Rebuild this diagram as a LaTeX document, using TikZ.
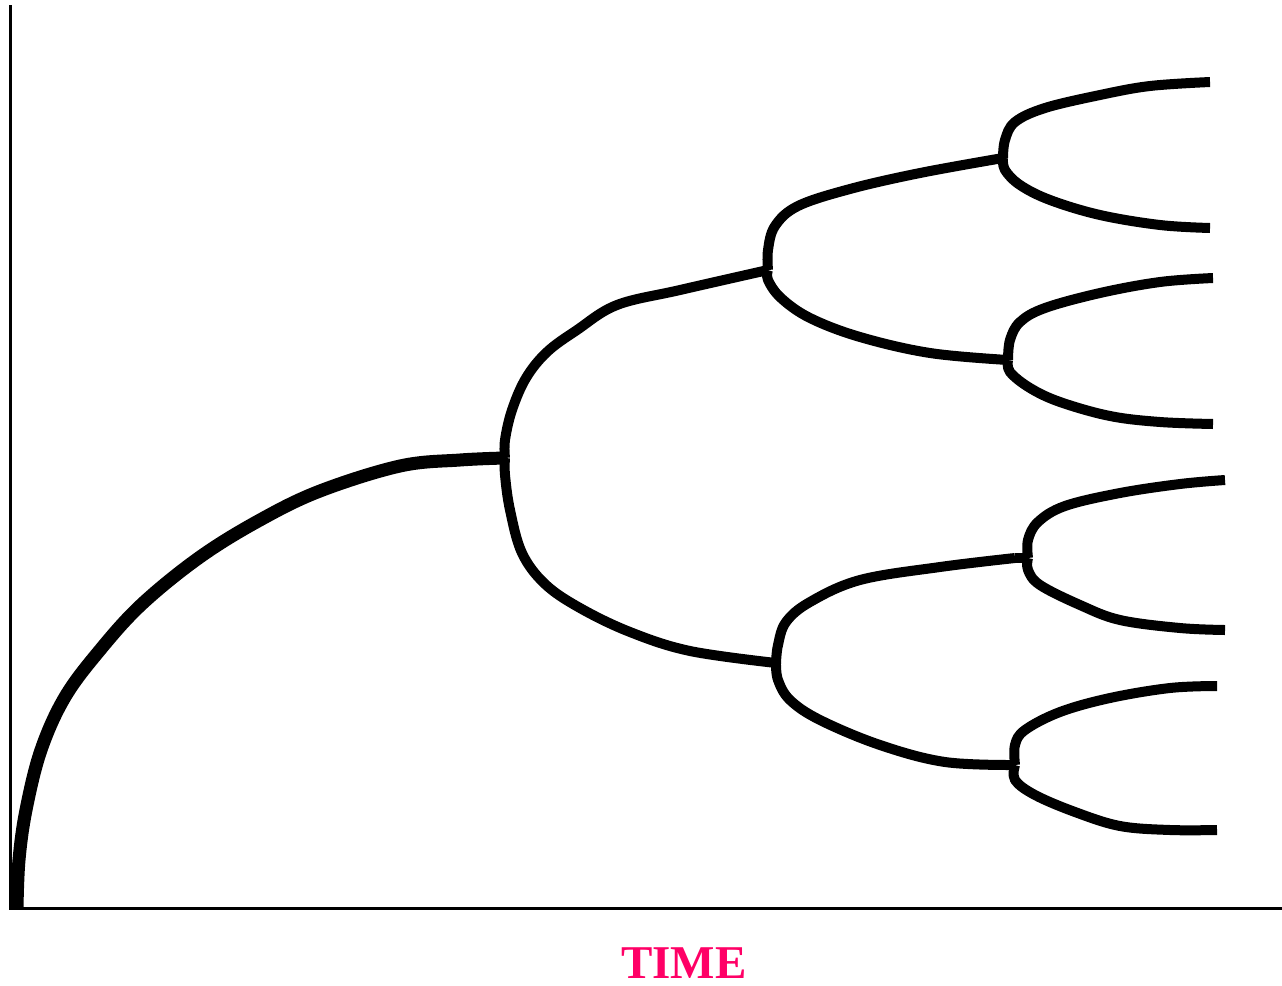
\documentclass[tikz,border=0pt]{standalone}
\usepackage{fontspec}
\setmainfont{Liberation Serif}
\definecolor{timepink}{HTML}{FF0066}
\begin{document}
\begin{tikzpicture}[x=1pt,y=-1pt,
  axis/.style={line width=3pt,black},
  trunk/.style={line width=13pt,black,line join=round},
  branch/.style={line width=10pt,black,line join=round},
  lbl/.style={text=timepink,inner sep=0pt,anchor=base,font=\fontsize{47}{50}\selectfont\bfseries}]
\useasboundingbox (0,0) rectangle (1282,985);
% axes
\coordinate (top) at (10.5,5);
\coordinate (origin) at (10.5,908.5);
\coordinate (right) at (1282,908.5);
\draw[axis] (top) -- (origin) -- (right);
% junctions
\coordinate (J1) at (505,458);
\coordinate (J2) at (768,270);
\coordinate (J3) at (1003,158);
\coordinate (J4) at (1008,360);
\coordinate (J5) at (776,663);
\coordinate (J6) at (1028,558);
\coordinate (J7) at (1015,765);
% trunk
\draw[trunk] plot[smooth,tension=0.6] coordinates {(17,908) (19,860) (26,810) (41,750) (65,697) (100,650) (142,604) (200,557) (260,520) (320,491) (400,466) (460,460) (505,458)};
% J1
\draw[branch] plot[smooth,tension=0.6] coordinates {(J1) (505,440) (512,410) (526,378) (547,352) (577,330) (617,305) (680,290) (768,270)};
\draw[branch] plot[smooth,tension=0.6] coordinates {(J1) (505,475) (510,510) (522,553) (545,584) (580,608) (630,632) (690,651) (776,663)};
% J2
\draw[branch] plot[smooth,tension=0.6] coordinates {(J2) (768,250) (775,226) (798,206) (850,189) (920,173) (1003,158)};
\draw[branch] plot[smooth,tension=0.6] coordinates {(J2) (768,280) (781,298) (810,318) (860,337) (930,353) (1008,360)};
% J3
\draw[branch] plot[smooth,tension=0.6] coordinates {(J3) (1005,140) (1015,122) (1045,108) (1100,95) (1150,86) (1210,82)};
\draw[branch] plot[smooth,tension=0.6] coordinates {(J3) (1005,170) (1020,185) (1050,200) (1100,215) (1160,225) (1210,228)};
% J4
\draw[branch] plot[smooth,tension=0.6] coordinates {(J4) (1010,340) (1020,322) (1045,308) (1100,293) (1160,282) (1213,278)};
\draw[branch] plot[smooth,tension=0.6] coordinates {(J4) (1010,372) (1030,388) (1060,402) (1110,416) (1160,422) (1213,424)};
% J5
\draw[branch] plot[smooth,tension=0.6] coordinates {(J5) (778,645) (786,622) (810,602) (860,580) (940,567) (1015,558)};
\draw[branch] plot[smooth,tension=0.6] coordinates {(J5) (778,680) (790,700) (820,720) (880,745) (945,762) (1015,765)};
% J6
\draw[branch] (1015,558) -- (J6);
\draw[branch] plot[smooth,tension=0.6] coordinates {(J6) (1028,540) (1038,522) (1065,506) (1120,493) (1180,484) (1225,480)};
\draw[branch] plot[smooth,tension=0.6] coordinates {(J6) (1028,570) (1040,585) (1080,605) (1120,620) (1180,628) (1225,630)};
% J7
\draw[branch] plot[smooth,tension=0.6] coordinates {(J7) (1015,745) (1025,730) (1060,712) (1110,698) (1170,688) (1217,686)};
\draw[branch] plot[smooth,tension=0.6] coordinates {(J7) (1015,780) (1035,795) (1075,812) (1120,826) (1170,830) (1217,830)};
% label
\node[lbl] (time) at (684,978) {TIME};
\end{tikzpicture}
\end{document}
